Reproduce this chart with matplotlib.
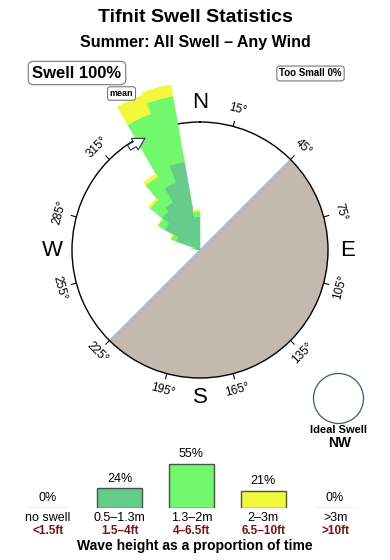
import matplotlib
matplotlib.use("Agg")
import matplotlib.pyplot as plt
import numpy as np
from matplotlib.patches import Ellipse

plt.rcParams['font.family'] = ['Liberation Sans', 'DejaVu Sans']

W, H = 390, 560

# swell rose: 10 degree direction bins, segment lengths relative to the compass circle radius
dir_bins = [280, 290, 300, 310, 320, 330, 340, 350]
seg_small = [0.04, 0.20, 0.32, 0.39, 0.43, 0.56, 0.70, 0.26]   # 0.5-1.3m
seg_mid = [0.03, 0.04, 0.06, 0.12, 0.23, 0.57, 0.52, 0.04]     # 1.3-2m
seg_big = [0.0, 0.005, 0.0, 0.015, 0.025, 0.16, 0.09, 0.015]   # 2-3m
mean_dir = 330

# height distribution legend
height_cats = ['no swell', '0.5\u20131.3m', '1.3\u20132m', '2\u20133m', '>3m']
height_ft = ['<1.5ft', '1.5\u20134ft', '4\u20136.5ft', '6.5\u201310ft', '>10ft']
height_pct = [0, 24, 55, 21, 0]

c_small, c_mid, c_big = '#66cc8c', '#72f86c', '#f2f83a'
height_colors = ['#a8a8d0', c_small, c_mid, c_big, '#d0aca4']
land_color = '#c4b9ae'


def fx(x):
    return x / W


def fy(y):
    return 1 - y / H


fig = plt.figure(figsize=(W / 100, H / 100), dpi=100)

# compass rose
cx, cy, R = 200, 250, 128
ax = fig.add_axes([fx(cx - R), fy(cy + R), 2 * R / W, 2 * R / H], projection='polar')
ax.set_theta_zero_location('N')
ax.set_theta_direction(-1)
ax.set_ylim(0, 1)
ax.grid(False)
ax.set_xticks([])
ax.set_yticks([])
ax.spines['polar'].set_linewidth(1.0)
ax.patch.set_alpha(0)

# land sector
ax.bar(np.deg2rad(45), 1, width=np.deg2rad(180), align='edge', color=land_color,
       edgecolor='none', zorder=1)
ax.plot(np.deg2rad([45, 45]), [0, 1], color='#9cbcdc', lw=1, zorder=1.5)
ax.plot(np.deg2rad([225, 225]), [0, 1], color='#9cbcdc', lw=1, zorder=1.5)

# degree ticks and labels
for d in range(15, 360, 30):
    t = np.deg2rad(d)
    ax.plot([t, t], [1.0, 1.04], color='black', lw=0.8, clip_on=False, zorder=2)
    rot = (-d) % 180
    if rot > 90:
        rot -= 180
    ax.text(t, 1.135, f'{d}\u00b0', rotation=rot, rotation_mode='anchor',
            ha='center', va='center', fontsize=8.5, clip_on=False, zorder=2)

for lab, d in zip(['N', 'E', 'S', 'W'], [0, 90, 180, 270]):
    ax.text(np.deg2rad(d), 1.155, lab, ha='center', va='center', fontsize=16,
            clip_on=False, zorder=2)

theta = np.deg2rad(dir_bins)
width = np.deg2rad(10)
b1 = np.array(seg_small)
b2 = b1 + np.array(seg_mid)
for segs, base, col in [(seg_small, 0, c_small), (seg_mid, b1, c_mid), (seg_big, b2, c_big)]:
    ax.bar(theta, segs, width=width, bottom=base, align='edge', color=col, edgecolor=col,
           lw=0.4, clip_on=False, zorder=3)

# mean direction marker
ax.annotate('', xy=(np.deg2rad(mean_dir + 5), 0.975), xytext=(np.deg2rad(mean_dir - 6), 0.975),
            arrowprops=dict(arrowstyle='simple,head_length=0.7,head_width=0.8,tail_width=0.35',
                            fc='white', ec='#223355', lw=0.8, mutation_scale=12),
            zorder=5, annotation_clip=False)

# titles and boxes
fig.text(0.5, fy(18), 'Tifnit Swell Statistics', ha='center', va='center',
         fontsize=14, fontweight='bold')
fig.text(0.5, fy(42), 'Summer: All Swell \u2013 Any Wind', ha='center', va='center',
         fontsize=11.5, fontweight='bold')
box = dict(boxstyle='round,pad=0.25,rounding_size=0.3', fc='white', ec='#777777', lw=0.8)
fig.text(fx(77), fy(73), 'Swell 100%', ha='center', va='center', fontsize=12,
         fontweight='bold', bbox=box)
fig.text(fx(310.5), fy(73.5), 'Too Small 0%', ha='center', va='center', fontsize=7,
         fontweight='bold', bbox=box)
fig.text(fx(121.5), fy(93.5), 'mean', ha='center', va='center', fontsize=6.5,
         fontweight='bold', bbox=box)

# ideal swell
fig.patches.append(Ellipse((fx(338.5), fy(398.5)), 50 / W, 50 / H, transform=fig.transFigure,
                           fc='white', ec='#3a5a80', lw=0.9))
fig.text(fx(338.5), fy(430), 'Ideal Swell', ha='center', va='center', fontsize=8,
         fontweight='bold')
fig.text(fx(340), fy(443), 'NW', ha='center', va='center', fontsize=10, fontweight='bold')

# height legend bars
bx = fig.add_axes([fx(12), fy(507.7), 359 / W, 67.7 / H])
xs = np.arange(len(height_cats))
edge = ['#445544' if p > 0 else c for p, c in zip(height_pct, height_colors)]
bx.bar(xs, height_pct, width=0.62, color=height_colors, edgecolor=edge, lw=1.0)
for x, p in zip(xs, height_pct):
    bx.annotate(f'{p}%', (x, p), xytext=(0, 2.5), textcoords='offset points',
                ha='center', va='bottom', fontsize=9)
bx.set_xlim(-0.5, 4.5)
bx.set_ylim(0, 84.6)
bx.axis('off')
for x, c, f in zip(xs, height_cats, height_ft):
    bx.text(x, -0.07, c, transform=bx.get_xaxis_transform(), ha='center', va='top',
            fontsize=9)
    bx.text(x, -0.25, f, transform=bx.get_xaxis_transform(), ha='center', va='top',
            fontsize=8.5, fontweight='bold', color='#7a1414')
fig.text(0.5, fy(546), 'Wave height as a proportion of time', ha='center', va='center',
         fontsize=10, fontweight='bold')

fig.savefig('out.png', dpi=100)
